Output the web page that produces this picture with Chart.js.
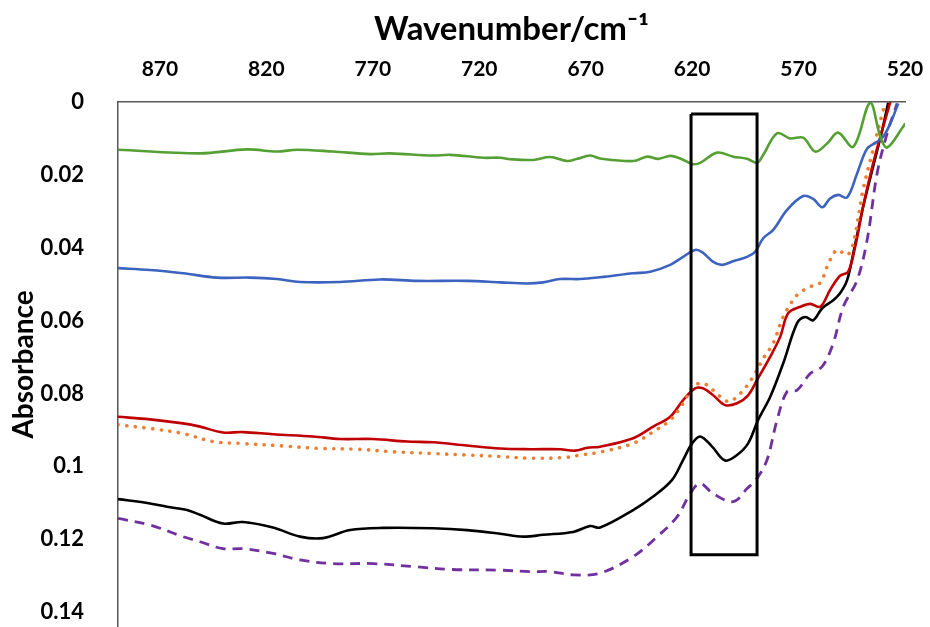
<!DOCTYPE html>
<html>
<head>
<meta charset="utf-8">
<script src="https://cdn.jsdelivr.net/npm/chart.js@4"></script>
<style>
  html, body { margin: 0; padding: 0; background: #fff; overflow: hidden; }
</style>
</head>
<body>
<canvas id="ftir" width="930" height="627"></canvas>
<script>
// Tick labels
const xTicks = [870, 820, 770, 720, 670, 620, 570, 520];
const yTicks = [0, 0.02, 0.04, 0.06, 0.08, 0.1, 0.12, 0.14];

// Green curve
const greenWn = [889.7, 851.2, 829.1, 815, 805.6, 788.7, 771.3, 761.9, 741.7, 733.7, 718.2, 710.2, 705.5, 694.7, 686.7, 678.7, 674, 667.9, 663.2, 647.7, 641.1, 635.9, 630.3, 625.6, 620, 616.2, 608.3, 600.7, 594.2, 589.5, 586.6, 580.1, 573.9, 567.8, 562.2, 556.6, 551.4, 544.3, 536.4, 531.6, 528.4, 520.9, 519.9];
const greenAbs = [0.0131, 0.0141, 0.0130, 0.0136, 0.0131, 0.0136, 0.0143, 0.0141, 0.0147, 0.0145, 0.0153, 0.0153, 0.0157, 0.0159, 0.0151, 0.0162, 0.0156, 0.0147, 0.0155, 0.0162, 0.0150, 0.0156, 0.0148, 0.0155, 0.0170, 0.0167, 0.0139, 0.0150, 0.0156, 0.0167, 0.0145, 0.0086, 0.0100, 0.0098, 0.0136, 0.0114, 0.0084, 0.0123, 0.0002, 0.0095, 0.0125, 0.0068, 0.0059];

// Blue curve
const blueWn = [889.7, 874.7, 859.2, 843.2, 827.7, 815, 804.2, 785.4, 766.6, 749.2, 725.7, 710.2, 697.5, 690, 682, 672.6, 663.2, 647.7, 639.7, 630.3, 624.2, 618.6, 615.3, 610.1, 605.9, 600.7, 594.2, 590.4, 586.6, 581.9, 575.4, 567.8, 563.1, 558.9, 555.2, 551.4, 547.2, 542.5, 537.8, 533.1, 530.2, 526.9, 523.2];
const blueAbs = [0.0456, 0.0461, 0.0470, 0.0482, 0.0482, 0.0486, 0.0494, 0.0494, 0.0487, 0.0491, 0.0491, 0.0495, 0.0498, 0.0495, 0.0486, 0.0486, 0.0481, 0.0470, 0.0466, 0.0447, 0.0425, 0.0406, 0.0412, 0.0439, 0.0447, 0.0437, 0.0425, 0.0411, 0.0374, 0.0351, 0.0296, 0.0258, 0.0266, 0.0289, 0.0265, 0.0255, 0.0262, 0.0196, 0.0128, 0.0109, 0.0095, 0.0059, 0.0004];

// Red curve
const redWn = [889.7, 874.7, 859.2, 851.2, 840.4, 831, 816.9, 798.1, 785.4, 769.9, 753.9, 741.7, 725.7, 710.2, 696.1, 682, 675, 669.3, 663.2, 647.7, 638.3, 630.3, 624.2, 618.6, 614.8, 610.1, 604.5, 598.9, 593.7, 589.5, 583.3, 578.6, 574.9, 569.2, 564.5, 559.8, 555.2, 550.5, 546.7, 543.4, 539.7, 535, 530.7, 526.9];
const redAbs = [0.0864, 0.0871, 0.0882, 0.0891, 0.0907, 0.0906, 0.0912, 0.0918, 0.0925, 0.0925, 0.0932, 0.0934, 0.0943, 0.0951, 0.0953, 0.0953, 0.0957, 0.0949, 0.0946, 0.0923, 0.0891, 0.0864, 0.0818, 0.0786, 0.0786, 0.0805, 0.0832, 0.0827, 0.0805, 0.0763, 0.0699, 0.0644, 0.0580, 0.0562, 0.0554, 0.0562, 0.0516, 0.0477, 0.0466, 0.0397, 0.0288, 0.0169, 0.0077, 0.0000];

// Orange dotted curve
const orangeWn = [889.7, 874.7, 859.2, 845.1, 832.4, 812.2, 794.8, 777.4, 760.5, 741.7, 725.7, 710.2, 694.7, 678.7, 672.6, 663.2, 647.7, 638.3, 630.3, 624.2, 619.5, 614.8, 610.1, 603.1, 597.4, 591.3, 586.6, 581.9, 577.2, 570.7, 564.5, 559.8, 556.6, 551.9, 547.2, 544.3, 539.7, 535, 530.2, 528.8];
const orangeAbs = [0.0886, 0.0896, 0.0910, 0.0932, 0.0937, 0.0944, 0.0951, 0.0953, 0.0960, 0.0965, 0.0969, 0.0973, 0.0978, 0.0975, 0.0969, 0.0961, 0.0937, 0.0905, 0.0873, 0.0827, 0.0781, 0.0772, 0.0791, 0.0822, 0.0800, 0.0754, 0.0704, 0.0662, 0.0590, 0.0530, 0.0507, 0.0496, 0.0452, 0.0406, 0.0420, 0.0388, 0.0241, 0.0131, 0.0022, 0.0000];

// Black curve
const blackWn = [889.7, 874.7, 866.7, 857.3, 851.2, 840.4, 831, 816.9, 804.2, 793.4, 780.7, 765.2, 741.7, 725.7, 710.2, 699.4, 690, 675.9, 667.9, 663.2, 647.7, 638.3, 629.4, 624.2, 620, 616.2, 610.6, 604.5, 598.9, 593.7, 589, 583.3, 577.2, 570.7, 566.9, 563.1, 558.9, 553.7, 550.5, 547.2, 544.3, 539.7, 535, 530.7, 527.9];
const blackAbs = [0.1090, 0.1102, 0.1111, 0.1120, 0.1133, 0.1157, 0.1153, 0.1168, 0.1193, 0.1197, 0.1175, 0.1169, 0.1170, 0.1175, 0.1185, 0.1193, 0.1188, 0.1180, 0.1164, 0.1168, 0.1120, 0.1083, 0.1037, 0.0982, 0.0937, 0.0918, 0.0946, 0.0984, 0.0969, 0.0937, 0.0873, 0.0809, 0.0717, 0.0607, 0.0590, 0.0599, 0.0566, 0.0544, 0.0525, 0.0489, 0.0415, 0.0288, 0.0178, 0.0077, 0.0002];

// Purple dashed curve
const purpleWn = [889.7, 874.7, 859.2, 851.2, 840.4, 831, 816.9, 804.2, 788.7, 769.9, 749.2, 733.7, 710.2, 696.1, 686.7, 675.9, 663.2, 647.7, 636.4, 627, 620.9, 616.2, 610.1, 600.7, 594.2, 589.5, 584.8, 580.1, 575.4, 570.7, 564.5, 558.9, 553.7, 549, 542.5, 537.8, 533.1, 528.4, 523.7];
const purpleAbs = [0.1143, 0.1161, 0.1193, 0.1207, 0.1226, 0.1226, 0.1239, 0.1257, 0.1267, 0.1267, 0.1276, 0.1283, 0.1285, 0.1289, 0.1289, 0.1298, 0.1293, 0.1248, 0.1193, 0.1138, 0.1075, 0.1047, 0.1075, 0.1097, 0.1061, 0.1033, 0.0982, 0.0873, 0.0795, 0.0791, 0.0745, 0.0726, 0.0662, 0.0562, 0.0489, 0.0379, 0.0196, 0.0086, 0.0004];

// Highlight box corners (wavenumber, absorbance)
const boxWn = [620.5, 589.5, 589.5, 620.5, 620.5];
const boxAbs = [0.0033, 0.0033, 0.1243, 0.1243, 0.0033];

function pts(xs, ys) {
  return xs.map((x, i) => ({ x: x, y: ys[i] }));
}

function curve(xs, ys, color, extra) {
  return Object.assign({
    data: pts(xs, ys),
    borderColor: color,
    borderWidth: 2.6,
    pointRadius: 0,
    tension: 0.35,
    fill: false,
    order: 1
  }, extra || {});
}

const FONT = "Lato, 'Open Sans', sans-serif";

new Chart(document.getElementById("ftir"), {
  type: "line",
  data: {
    datasets: [
      curve(greenWn, greenAbs, "#55A033"),
      curve(blueWn, blueAbs, "#3B63BF"),
      curve(orangeWn, orangeAbs, "#ED7D31", { borderWidth: 3.6, borderDash: [0.1, 8.6], borderCapStyle: "round" }),
      curve(redWn, redAbs, "#C00000"),
      curve(purpleWn, purpleAbs, "#7030A0", { borderWidth: 2.8, borderDash: [10, 7] }),
      curve(blackWn, blackAbs, "#000000"),
      { data: pts(boxWn, boxAbs), borderColor: "#000", borderWidth: 3, pointRadius: 0, tension: 0, fill: false, order: 0 }
    ]
  },
  options: {
    responsive: false,
    devicePixelRatio: 1,
    animation: false,
    layout: { padding: { left: 0, right: 25, top: 0, bottom: 0 } },
    plugins: { legend: { display: false }, tooltip: { enabled: false } },
    scales: {
      x: {
        type: "linear",
        position: "top",
        reverse: true,
        min: 520,
        max: 889.7,
        afterBuildTicks: s => { s.ticks = xTicks.map(v => ({ value: v })); },
        afterFit: s => { s.height = 102; s.paddingLeft = 0; s.paddingRight = 0; },
        grid: { display: false },
        border: { display: true, color: "#595959", width: 1.5 },
        ticks: { color: "#000", font: { family: FONT, size: 21, weight: "bold" }, padding: 12, maxRotation: 0 },
        title: {
          display: true,
          text: "Wavenumber/cm⁻¹",
          color: "#000",
          font: { family: FONT, size: 33, weight: "bold" },
          padding: { top: 10, bottom: 0 }
        }
      },
      y: {
        type: "linear",
        reverse: true,
        min: 0,
        max: 0.1441,
        afterBuildTicks: s => { s.ticks = yTicks.map(v => ({ value: v })); },
        afterFit: s => { s.width = 118; s.paddingTop = 0; s.paddingBottom = 0; },
        grid: { display: false },
        border: { display: true, color: "#595959", width: 1.5 },
        ticks: {
          color: "#000",
          font: { family: FONT, size: 22, weight: "bold" },
          padding: 26,
          callback: v => String(+v.toFixed(2))
        },
        title: {
          display: true,
          text: "Absorbance",
          color: "#000",
          font: { family: FONT, size: 28, weight: "bold" },
          padding: { top: 7, bottom: 0 }
        }
      }
    }
  }
});
</script>
</body>
</html>
